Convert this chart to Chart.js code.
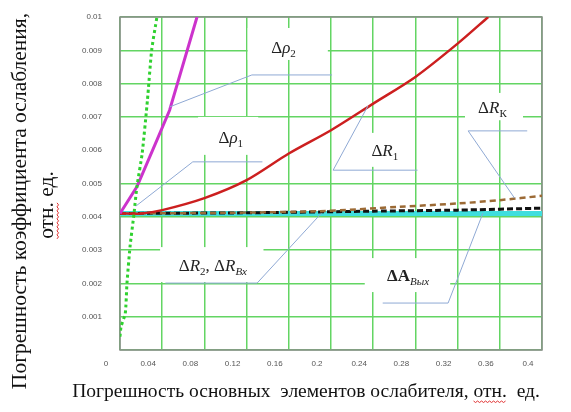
<!DOCTYPE html>
<html>
<head>
<meta charset="utf-8">
<script src="https://cdn.jsdelivr.net/npm/chart.js@4/dist/chart.umd.min.js"></script>
<style>
html, body { margin: 0; padding: 0; background: #fff; }
</style>
</head>
<body>
<canvas id="chart" width="571" height="412"></canvas>
<script>
// tick labels
const xTickLabels = ['0', '0.04', '0.08', '0.12', '0.16', '0.2', '0.24', '0.28', '0.32', '0.36', '0.4'];
const yTickLabels = ['', '0.001', '0.002', '0.003', '0.004', '0.005', '0.006', '0.007', '0.008', '0.009', '0.01'];

// Δρ1 (green dotted)
const rho1X = [0, 0.001, 0.005, 0.0066, 0.0095, 0.0133, 0.016, 0.021, 0.026, 0.030, 0.035];
const rho1Y = [0.0004, 0.0007, 0.0011, 0.0020, 0.0031, 0.0041, 0.0049, 0.0059, 0.0075, 0.0090, 0.0100];
// Δρ2 (magenta)
const rho2X = [0, 0.016, 0.035, 0.047, 0.073];
const rho2Y = [0.0041, 0.0049, 0.0063, 0.0072, 0.0100];
// ΔR1 (red)
const r1X = [0, 0.02, 0.04, 0.08, 0.12, 0.16, 0.2, 0.24, 0.28, 0.32, 0.349];
const r1Y = [0.0041, 0.0041, 0.0042, 0.00456, 0.0051, 0.0059, 0.0066, 0.0074, 0.0082, 0.0092, 0.0100];
// ΔRк (brown dashed)
const rkX = [0, 0.1, 0.19, 0.265, 0.32, 0.36, 0.4];
const rkY = [0.0041, 0.00412, 0.00417, 0.0043, 0.0044, 0.0045, 0.00463];
// ΔR2, ΔRвх (black dashed)
const r2X = [0, 0.12, 0.24, 0.32, 0.4];
const r2Y = [0.0041, 0.00412, 0.00417, 0.0042, 0.00426];
// ΔA вых (cyan)
const aX = [0, 0.4];
const aY = [0.0041, 0.0041];

const pts = (xs, ys) => xs.map((v, i) => ({x: v, y: ys[i]}));

// callouts, in data units
const notes = [
    {text: [{t: 'Δ'}, {t: 'ρ', i: true}, {t: '2', sub: true}], at: [0.155, 0.0091],
     box: [0.121, 0.00967, 0.197, 0.00871], lead: [[0.047, 0.0073], [0.125, 0.00826], [0.201, 0.00826]]},
    {text: [{t: 'Δ'}, {t: 'ρ', i: true}, {t: '1', sub: true}], at: [0.105, 0.0064],
     box: [0.074, 0.0070, 0.131, 0.00586], lead: [[0.015, 0.00432], [0.069, 0.00565], [0.135, 0.00565]]},
    {text: [{t: 'Δ'}, {t: 'R', i: true}, {t: '1', sub: true}], at: [0.251, 0.0060],
     box: [0.218, 0.00652, 0.277, 0.0055], lead: [[0.235, 0.00733], [0.202, 0.0054], [0.282, 0.0054]]},
    {text: [{t: 'Δ'}, {t: 'R', i: true}, {t: 'К', sub: true}], at: [0.353, 0.0073],
     box: [0.327, 0.00772, 0.382, 0.0069], lead: [[0.386, 0.00658], [0.33, 0.00658], [0.374, 0.00456]]},
    {text: [{t: 'Δ'}, {t: 'R', i: true}, {t: '2', sub: true}, {t: ', Δ'}, {t: 'R', i: true}, {t: 'Вх', sub: true, i: true}], at: [0.088, 0.00255],
     box: [0.038, 0.00309, 0.136, 0.00204], lead: [[0.043, 0.00201], [0.13, 0.00201], [0.191, 0.00411]]},
    {text: [{t: 'ΔA', b: true}, {t: 'Вых', sub: true, i: true}], at: [0.273, 0.00225],
     box: [0.232, 0.00276, 0.313, 0.00174], lead: [[0.249, 0.00141], [0.311, 0.00141], [0.344, 0.00411]]}
];

const serif = '"Liberation Serif", "Times New Roman", serif';

function richText(ctx, segs, cx, cy) {
    const font = s => (s.i ? 'italic ' : '') + (s.b ? 'bold ' : '') + (s.sub ? 11 : 17) + 'px ' + serif;
    let w = 0;
    segs.forEach(s => { ctx.font = font(s); w += ctx.measureText(s.t).width; });
    let px = cx - w / 2;
    ctx.textBaseline = 'alphabetic';
    ctx.textAlign = 'left';
    segs.forEach(s => {
        ctx.font = font(s);
        ctx.fillText(s.t, px, cy + 6 + (s.sub ? 4 : 0));
        px += ctx.measureText(s.t).width;
    });
}

// red spell-check squiggle under a word of a centred line
function squiggle(ctx, line, word, cx, base) {
    const full = ctx.measureText(line).width;
    const start = cx - full / 2 + ctx.measureText(line.slice(0, line.indexOf(word))).width;
    const w = ctx.measureText(word).width;
    ctx.save();
    ctx.strokeStyle = '#e03030';
    ctx.lineWidth = 1;
    ctx.beginPath();
    for (let k = 0; k <= w; k += 2) {
        const yy = base + (k % 4 === 0 ? 0 : 1.5);
        if (k === 0) ctx.moveTo(start + k, yy); else ctx.lineTo(start + k, yy);
    }
    ctx.stroke();
    ctx.restore();
}

const callouts = {
    id: 'callouts',
    beforeDatasetsDraw(chart) {
        const {ctx, chartArea: a, scales: {x, y}} = chart;
        ctx.save();
        ctx.fillStyle = '#fff';
        notes.forEach(n => {
            const x0 = x.getPixelForValue(n.box[0]), y0 = y.getPixelForValue(n.box[1]);
            const x1 = x.getPixelForValue(n.box[2]), y1 = y.getPixelForValue(n.box[3]);
            ctx.fillRect(x0, y0, x1 - x0, y1 - y0);
        });
        ctx.strokeStyle = '#8c8c8c';
        ctx.lineWidth = 1.5;
        ctx.strokeRect(a.left, a.top, a.right - a.left, a.bottom - a.top);
        ctx.restore();
    },
    afterDatasetsDraw(chart) {
        const {ctx, scales: {x, y}} = chart;
        ctx.save();
        ctx.strokeStyle = '#8fa9d4';
        ctx.lineWidth = 1;
        notes.forEach(n => {
            ctx.beginPath();
            n.lead.forEach((p, i) => {
                const px = x.getPixelForValue(p[0]), py = y.getPixelForValue(p[1]);
                if (i === 0) ctx.moveTo(px, py); else ctx.lineTo(px, py);
            });
            ctx.stroke();
        });
        ctx.fillStyle = '#222';
        notes.forEach(n => richText(ctx, n.text, x.getPixelForValue(n.at[0]), y.getPixelForValue(n.at[1])));
        ctx.restore();
    },
    afterDraw(chart) {
        const ctx = chart.ctx;
        const xTitle = 'Погрешность основных  элементов ослабителя, отн.  ед.';
        const yTitle1 = 'Погрешность коэффициента ослабления,';
        const yTitle2 = 'отн. ед.';
        ctx.save();
        ctx.fillStyle = '#111';
        ctx.textAlign = 'center';
        ctx.textBaseline = 'alphabetic';
        ctx.font = '19.5px ' + serif;
        ctx.fillText(xTitle, 306, 397);
        squiggle(ctx, xTitle, 'отн.', 306, 401);
        ctx.translate(19, 201);
        ctx.rotate(-Math.PI / 2);
        ctx.font = '21.5px ' + serif;
        ctx.fillText(yTitle1, 0, 7);
        ctx.fillText(yTitle2, -4, 34);
        squiggle(ctx, yTitle2, 'отн.', -4, 38);
        ctx.restore();
    }
};

new Chart(document.getElementById('chart'), {
    type: 'line',
    data: {
        datasets: [
            {label: 'Δρ1', data: pts(rho1X, rho1Y), borderColor: '#2fd12f', borderWidth: 3,
             borderDash: [3, 3], pointRadius: 0, tension: 0.2, order: 1},
            {label: 'Δρ2', data: pts(rho2X, rho2Y), borderColor: '#cc33cc', borderWidth: 3,
             pointRadius: 0, tension: 0, order: 2},
            {label: 'ΔR1', data: pts(r1X, r1Y), borderColor: '#cc1f1f', borderWidth: 2.5,
             pointRadius: 0, tension: 0.3, order: 3},
            {label: 'ΔRк', data: pts(rkX, rkY), borderColor: '#9c6a35', borderWidth: 2.5,
             borderDash: [6, 4], pointRadius: 0, tension: 0.3, order: 4},
            {label: 'ΔR2, ΔRвх', data: pts(r2X, r2Y), borderColor: '#111', borderWidth: 3,
             borderDash: [6, 3], pointRadius: 0, tension: 0.2, order: 5},
            {label: 'ΔAвых', data: pts(aX, aY), borderColor: '#3fdede', borderWidth: 5,
             pointRadius: 0, order: 6}
        ]
    },
    options: {
        responsive: false,
        animation: false,
        devicePixelRatio: 1,
        layout: {padding: {top: 17, right: 29, left: 0, bottom: 0}},
        plugins: {legend: {display: false}, tooltip: {enabled: false}},
        scales: {
            x: {
                type: 'linear', min: 0, max: 0.4,
                afterFit: s => { s.height = 62; s.paddingLeft = 0; s.paddingRight = 0; },
                border: {display: false},
                grid: {color: '#63d563', lineWidth: 1.5, drawTicks: false},
                ticks: {stepSize: 0.04, padding: 9, labelOffset: -14, color: '#555',
                        font: {size: 8, family: 'Liberation Sans'},
                        callback: (v, i) => xTickLabels[i]}
            },
            y: {
                type: 'linear', min: 0, max: 0.01,
                afterFit: s => { s.width = 120; s.paddingTop = 0; s.paddingBottom = 0; },
                border: {display: false},
                grid: {color: c => (c.tick && Math.abs(c.tick.value - 0.006) < 1e-6) ? 'rgba(0,0,0,0)' : '#63d563',
                       lineWidth: 1.5, drawTicks: false},
                ticks: {stepSize: 0.001, padding: 18, color: '#555',
                        font: {size: 8, family: 'Liberation Sans'},
                        callback: (v, i) => yTickLabels[i]}
            }
        }
    },
    plugins: [callouts]
});
</script>
</body>
</html>
